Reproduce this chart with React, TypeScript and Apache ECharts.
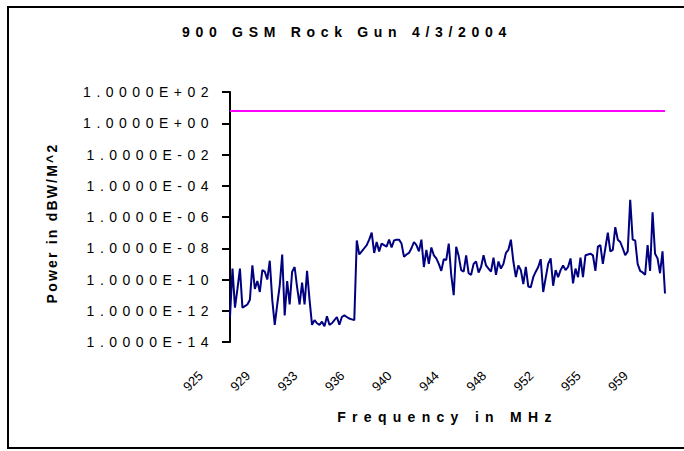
import React, { useEffect, useRef } from "react";
import * as echarts from "echarts";

const TITLE = "900 GSM Rock Gun 4/3/2004";
const X_NAME = "Frequency in MHz";
const Y_NAME = "Power in dBW/M^2";

// Frequencies (MHz), one per sample
const frequencies: number[] = [
  925.0, 925.2, 925.4, 925.6, 925.8, 926.0, 926.2, 926.4, 926.6, 926.8,
  927.0, 927.2, 927.4, 927.6, 927.8, 928.0, 928.2, 928.4, 928.6, 928.8,
  929.0, 929.2, 929.4, 929.6, 929.8, 930.0, 930.2, 930.4, 930.6, 930.8,
  931.0, 931.2, 931.4, 931.6, 931.8, 932.0, 932.2, 932.4, 932.6, 932.8,
  933.0, 933.2, 933.4, 933.6, 933.8, 934.0, 934.2, 934.4, 934.6, 934.8,
  935.0, 935.2, 935.4, 935.6, 935.8, 936.0, 936.2, 936.4, 936.6, 936.8,
  937.0, 937.2, 937.4, 937.6, 937.8, 938.0, 938.2, 938.4, 938.6, 938.8,
  939.0, 939.2, 939.4, 939.6, 939.8, 940.0, 940.2, 940.4, 940.6, 940.8,
  941.0, 941.2, 941.4, 941.6, 941.8, 942.0, 942.2, 942.4, 942.6, 942.8,
  943.0, 943.2, 943.4, 943.6, 943.8, 944.0, 944.2, 944.4, 944.6, 944.8,
  945.0, 945.2, 945.4, 945.6, 945.8, 946.0, 946.2, 946.4, 946.6, 946.8,
  947.0, 947.2, 947.4, 947.6, 947.8, 948.0, 948.2, 948.4, 948.6, 948.8,
  949.0, 949.2, 949.4, 949.6, 949.8, 950.0, 950.2, 950.4, 950.6, 950.8,
  951.0, 951.2, 951.4, 951.6, 951.8, 952.0, 952.2, 952.4, 952.6, 952.8,
  953.0, 953.2, 953.4, 953.6, 953.8, 954.0, 954.2, 954.4, 954.6, 954.8,
  955.0, 955.2, 955.4, 955.6, 955.8, 956.0, 956.2, 956.4, 956.6, 956.8,
  957.0, 957.2, 957.4, 957.6, 957.8, 958.0, 958.2, 958.4, 958.6, 958.8,
  959.0, 959.2, 959.4, 959.6, 959.8, 960.0,
];

// Measured power, as log10(dBW/M^2), one per frequency
const powerLog10: number[] = [
  -12.4, -9.3, -11.8, -10.6, -9.3, -11.8, -11.7, -11.6, -11.3, -9.1,
  -10.6, -10.1, -10.8, -9.4, -9.5, -10.0, -8.8, -11.3, -12.9, -11.6,
  -10.4, -8.4, -12.3, -10.1, -11.6, -9.5, -9.2, -10.5, -11.6, -10.2,
  -11.6, -9.45, -11.3, -12.9, -12.6, -12.8, -12.9, -12.7, -13.0, -12.35,
  -12.9, -12.8, -12.6, -12.4, -12.9, -12.4, -12.3, -12.4, -12.5, -12.55,
  -12.6, -7.5, -8.4, -8.2, -8.0, -7.8, -7.45, -7.0, -8.3, -7.6,
  -8.2, -7.7, -7.8, -7.9, -7.45, -7.95, -7.5, -7.45, -7.45, -7.7,
  -8.55, -8.4, -8.3, -8.0, -7.6, -7.8, -8.2, -7.45, -9.2, -8.1,
  -9.0, -7.95, -8.45, -8.65, -9.0, -9.45, -8.7, -8.75, -7.7, -9.7,
  -11.0, -7.9, -8.5, -9.4, -9.5, -8.45, -9.6, -9.7, -9.0, -8.85,
  -9.55, -9.2, -8.45, -9.1, -9.3, -9.5, -8.6, -9.7, -8.85, -9.3,
  -9.0, -8.3, -8.1, -7.45, -8.85, -9.85, -9.1, -9.4, -10.3, -9.2,
  -10.45, -10.5, -9.85, -9.5, -9.2, -8.7, -10.8, -9.9, -9.0, -8.65,
  -10.4, -9.4, -9.85, -9.4, -9.1, -9.4, -9.2, -8.65, -10.25, -9.3,
  -9.85, -8.6, -9.85, -8.45, -8.4, -8.35, -8.45, -9.45, -7.9, -7.8,
  -9.0, -8.0, -7.0, -8.2, -8.1, -6.65, -7.45, -7.6, -8.0, -8.45,
  -8.2, -4.9, -7.45, -7.5, -9.0, -9.45, -9.55, -9.7, -7.8, -9.45,
  -5.7, -8.35, -8.65, -9.6, -8.2, -10.9,
];

// Limit level (dBW/M^2)
const limitValue = 6;

// Y axis in decades (log10 of the power): 1e-14 .. 1e+2, a label every 2 decades
const Y_MIN_EXP = -14;
const Y_MAX_EXP = 2;
const Y_STEP_EXP = 2;

function formatSci(e: number): string {
  const r = Math.round(e);
  const sign = r < 0 ? "-" : "+";
  const abs = String(Math.abs(r)).padStart(2, "0");
  return `1.0000E${sign}${abs}`;
}

export default function App() {
  const ref = useRef<HTMLDivElement | null>(null);

  useEffect(() => {
    const el = ref.current;
    if (!el) return;
    document.body.style.margin = "0";
    const chart = echarts.init(el, undefined, { renderer: "svg" });

    const categories = frequencies.map((f) => f.toFixed(1));
    const limitExp = Math.log10(limitValue);
    const font = "'Liberation Sans', Arial, Helvetica, sans-serif";

    chart.setOption({
      animation: false,
      backgroundColor: "#ffffff",
      title: {
        text: TITLE,
        left: 182,
        top: 25,
        padding: 0,
        textStyle: { fontFamily: font, fontSize: 14, fontWeight: "bold", color: "#000" },
      },
      grid: { left: 230, right: 19, top: 92, bottom: 109, containLabel: false, outerBoundsMode: "none" },
      graphic: [
        {
          type: "rect",
          silent: true,
          shape: { x: 8, y: 7, width: 700, height: 441 },
          style: { fill: "none", stroke: "#000", lineWidth: 2 },
        },
      ],
      xAxis: {
        type: "category",
        data: categories,
        boundaryGap: false,
        name: X_NAME,
        nameLocation: "middle",
        nameGap: 68,
        nameMoveOverlap: false,
        nameTextStyle: { fontFamily: font, fontSize: 14, fontWeight: "bold", color: "#000" },
        axisLine: { show: false },
        axisTick: { show: false },
        splitLine: { show: false },
        axisLabel: {
          interval: 18,
          rotate: 45,
          margin: 2,
          padding: [0, 41.6, 14.5, 0],
          fontFamily: font,
          fontSize: 13,
          color: "#000",
          formatter: (v: string) => String(Math.round(parseFloat(v))),
        },
      },
      yAxis: {
        type: "value",
        min: Y_MIN_EXP,
        max: Y_MAX_EXP,
        interval: Y_STEP_EXP,
        name: Y_NAME,
        nameLocation: "middle",
        nameRotate: 90,
        nameGap: 171,
        nameMoveOverlap: false,
        nameTextStyle: {
          fontFamily: font,
          fontSize: 14,
          fontWeight: "bold",
          color: "#000",
          padding: [0, 12, 0, 0],
        },
        axisLine: { show: true, lineStyle: { color: "#000", width: 2 } },
        axisTick: { show: true, inside: false, length: 8, lineStyle: { color: "#000", width: 2 } },
        minorTick: { show: false },
        splitLine: { show: false },
        axisLabel: {
          margin: 16,
          fontFamily: font,
          fontSize: 14,
          color: "#000",
          formatter: (v: number) => formatSci(v),
        },
      },
      series: [
        {
          name: "Power",
          type: "line",
          data: powerLog10,
          symbol: "none",
          showSymbol: false,
          lineStyle: { color: "#000080", width: 2 },
          itemStyle: { color: "#000080" },
          z: 3,
        },
        {
          name: "Limit",
          type: "line",
          data: [
            [categories[0], limitExp],
            [categories[categories.length - 1], limitExp],
          ],
          symbol: "none",
          showSymbol: false,
          lineStyle: { color: "#FF00FF", width: 2 },
          itemStyle: { color: "#FF00FF" },
          z: 2,
        },
      ],
    });

    const applySpacing = () => {
      el.querySelectorAll("text").forEach((t) => {
        const s = t.textContent || "";
        if (/^1\.0000E/.test(s)) t.setAttribute("letter-spacing", "5.5");
        else if (s === TITLE) t.setAttribute("letter-spacing", "5.7");
        else if (s === X_NAME) t.setAttribute("letter-spacing", "6.3");
        else if (s === Y_NAME) t.setAttribute("letter-spacing", "2.2");
      });
    };
    applySpacing();
    chart.on("finished", applySpacing);
    const raf = requestAnimationFrame(applySpacing);

    return () => {
      cancelAnimationFrame(raf);
      chart.dispose();
    };
  }, []);

  return (
    <div
      ref={ref}
      style={{ position: "absolute", left: 0, top: 0, width: 684, height: 451 }}
    />
  );
}
